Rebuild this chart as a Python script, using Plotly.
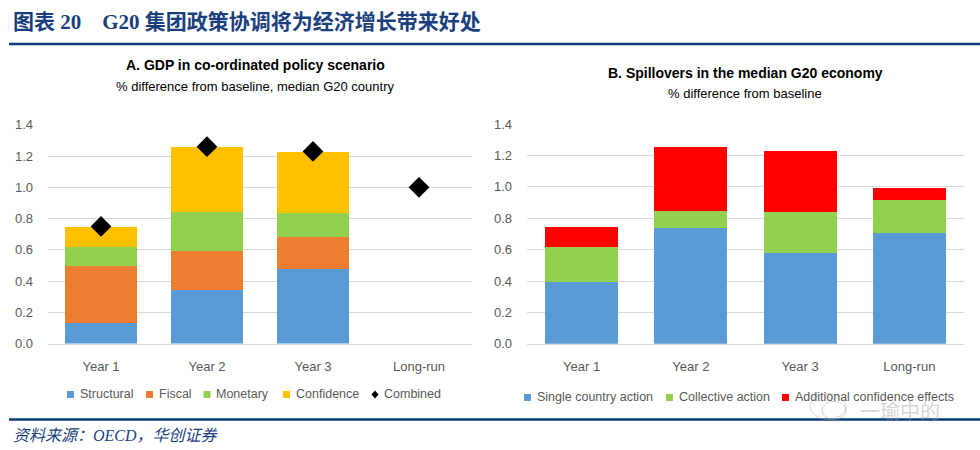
import plotly.graph_objects as go

categories = ["Year 1", "Year 2", "Year 3", "Long-run"]

# Panel A: GDP in co-ordinated policy scenario (% diff. from baseline)
structural = [0.134, 0.343, 0.474, None]
fiscal = [0.362, 0.248, 0.205, None]
monetary = [0.121, 0.254, 0.159, None]
confidence = [0.132, 0.41, 0.388, None]
combined = [0.75, 1.26, 1.23, 1.0]

# Panel B: Spillovers in the median G20 economy
single_country = [0.395, 0.736, 0.577, 0.709]
collective = [0.22, 0.113, 0.265, 0.205]
additional_conf = [0.132, 0.407, 0.384, 0.077]

y_ticks = [0.0, 0.2, 0.4, 0.6, 0.8, 1.0, 1.2, 1.4]

FONT = "Liberation Sans, Arial, sans-serif"
TICKC = "#595959"
GRID = "#d9d9d9"
NAVY = "#1A3F7E"

W, H = 980, 450
VS, VO = 0.968, 7.0   # vertical calibration of the captured picture
def px(x):
    return x / W
def py(y):
    return 1 - ((y - VO) / VS) / H

fig = go.Figure()

left_series = [
    ("Structural", structural, "#5B9BD5"),
    ("Fiscal", fiscal, "#ED7D31"),
    ("Monetary", monetary, "#92D050"),
    ("Confidence", confidence, "#FFC000"),
]
for name, vals, col in left_series:
    fig.add_trace(go.Bar(x=categories, y=vals, name=name, marker_color=col,
                         marker_line_width=0, xaxis="x", yaxis="y", width=0.67))
fig.add_trace(go.Scatter(x=categories, y=combined, name="Combined", mode="markers",
                         marker=dict(symbol="diamond", size=16, color="black"),
                         xaxis="x", yaxis="y"))

right_series = [
    ("Single country action", single_country, "#5B9BD5"),
    ("Collective action", collective, "#92D050"),
    ("Additional confidence effects", additional_conf, "#FF0000"),
]
for name, vals, col in right_series:
    fig.add_trace(go.Bar(x=categories, y=vals, name=name, marker_color=col,
                         marker_line_width=0, xaxis="x2", yaxis="y2", width=0.67))

yax = dict(range=[0, 1.4], tickvals=y_ticks, tickformat=".1f", showgrid=True,
           gridcolor=GRID, gridwidth=1, zeroline=False, showline=False,
           tickfont=dict(family=FONT, size=13, color=TICKC), ticklabelstandoff=14,
           fixedrange=True)
xax = dict(type="category", showgrid=False, showline=True, linecolor=GRID, linewidth=1,
           tickfont=dict(family=FONT, size=13, color=TICKC), ticks="",
           ticklabelstandoff=11, fixedrange=True)

fig.update_layout(
    width=W, height=H,
    margin=dict(l=0, r=0, t=0, b=0),
    paper_bgcolor="white", plot_bgcolor="white",
    barmode="stack",
    font=dict(family=FONT, color=TICKC),
    xaxis=dict(xax, domain=[px(48), px(472)], anchor="y"),
    yaxis=dict(yax, domain=[py(344), py(125)], anchor="x"),
    xaxis2=dict(xax, domain=[px(527), px(964)], anchor="y2"),
    yaxis2=dict(yax, domain=[py(344.3), py(124.3)], anchor="x2"),
    showlegend=False,
)

# header and footer rules
fig.add_shape(type="line", xref="paper", yref="paper", x0=px(9), x1=1, y0=py(44), y1=py(44),
              line=dict(color="#0B3A7A", width=2.5))
fig.add_shape(type="line", xref="paper", yref="paper", x0=px(9), x1=1, y0=py(420), y1=py(420),
              line=dict(color="#0B3A7A", width=2.5))

ann = []

# legends (keys + labels), built from the series definitions
left_key_x = [70.5, 149.5, 207, 286.5, 375]
right_key_x = [527.5, 669.5, 785.5]
LEG_Y_L, LEG_Y_R = 395, 398
for (name, _, col), kx in zip(left_series, left_key_x):
    fig.add_shape(type="rect", xref="paper", yref="paper", x0=px(kx - 3.5), x1=px(kx + 3.5),
                  y0=py(LEG_Y_L + 3.5), y1=py(LEG_Y_L - 3.5), fillcolor=col, line_width=0)
    ann.append(dict(text=name, x=px(kx + 7), y=py(LEG_Y_L), xanchor="left", yanchor="middle",
                    font=dict(family=FONT, size=12.5, color=TICKC)))
kx = left_key_x[-1]
fig.add_shape(type="path", xref="paper", yref="paper",
              path=f"M {px(kx)} {py(LEG_Y_L - 4)} L {px(kx + 3.5)} {py(LEG_Y_L)} "
                   f"L {px(kx)} {py(LEG_Y_L + 4)} L {px(kx - 3.5)} {py(LEG_Y_L)} Z",
              fillcolor="black", line_width=0)
ann.append(dict(text="Combined", x=px(kx + 7), y=py(LEG_Y_L), xanchor="left", yanchor="middle",
                font=dict(family=FONT, size=12.5, color=TICKC)))
for (name, _, col), kx in zip(right_series, right_key_x):
    fig.add_shape(type="rect", xref="paper", yref="paper", x0=px(kx - 3.5), x1=px(kx + 3.5),
                  y0=py(LEG_Y_R + 3.5), y1=py(LEG_Y_R - 3.5), fillcolor=col, line_width=0)
    ann.append(dict(text=name, x=px(kx + 7), y=py(LEG_Y_R), xanchor="left", yanchor="middle",
                    font=dict(family=FONT, size=12.5, color=TICKC)))

# faint watermark (chat bubble outline + name)
fig.add_shape(type="circle", xref="paper", yref="paper", x0=px(810), x1=px(846),
              y0=py(420), y1=py(394), line=dict(color="rgba(170,170,170,0.5)", width=1))
fig.add_shape(type="circle", xref="paper", yref="paper", x0=px(822), x1=px(846),
              y0=py(420), y1=py(402), line=dict(color="rgba(170,170,170,0.5)", width=1))

ann.append(dict(text="<b>图表 20　G20 集团政策协调将为经济增长带来好处</b>", x=px(11), y=py(22),
                xanchor="left", yanchor="middle",
                font=dict(family="Liberation Serif, Noto Sans CJK SC", size=21, color=NAVY)))
ann.append(dict(text="<b>A. GDP in co-ordinated policy scenario</b>", x=px(255), y=py(65),
                xanchor="center", yanchor="middle",
                font=dict(family=FONT, size=14, color="#000000")))
ann.append(dict(text="% difference from baseline, median G20 country", x=px(255), y=py(87),
                xanchor="center", yanchor="middle",
                font=dict(family=FONT, size=13, color="#000000")))
ann.append(dict(text="<b>B. Spillovers in the median G20 economy</b>", x=px(745), y=py(73),
                xanchor="center", yanchor="middle",
                font=dict(family=FONT, size=14, color="#000000")))
ann.append(dict(text="% difference from baseline", x=px(745), y=py(94),
                xanchor="center", yanchor="middle",
                font=dict(family=FONT, size=13, color="#000000")))
ann.append(dict(text="<i>资料来源：OECD，华创证券</i>", x=px(11), y=py(436),
                xanchor="left", yanchor="middle",
                font=dict(family="Liberation Serif, Noto Sans CJK SC", size=16, color=NAVY)))
ann.append(dict(text="一瑜中的", x=px(900), y=py(411), xanchor="center", yanchor="middle",
                font=dict(family="Noto Sans CJK SC", size=20, color="rgba(160,160,160,0.45)")))
for a in ann:
    a.update(xref="paper", yref="paper", showarrow=False)
fig.update_layout(annotations=ann)

fig.write_html(
    "out.html",
    config={"displayModeBar": False},
    post_script="document.body.style.margin='0';document.body.style.overflow='hidden';",
)
